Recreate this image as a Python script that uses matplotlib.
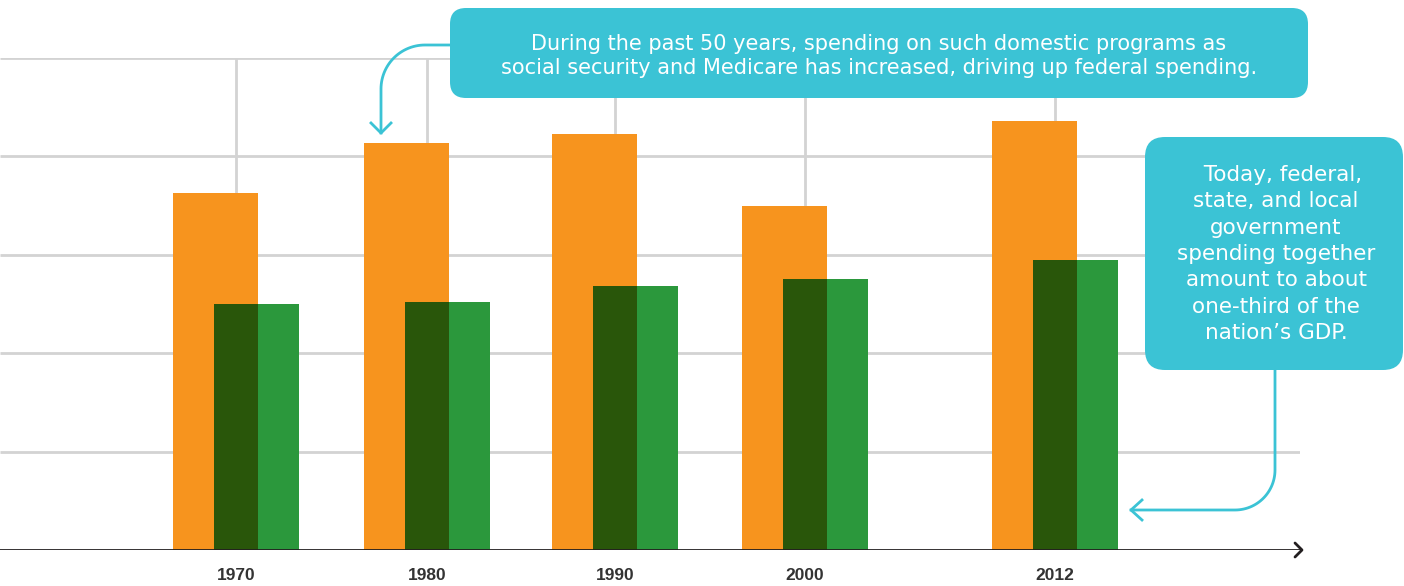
import numpy as np
import matplotlib
matplotlib.use("Agg")
import matplotlib.pyplot as plt
from matplotlib.patches import FancyBboxPatch

# data (share of GDP)
years = ["1970", "1980", "1990", "2000", "2012"]
xpos = [0, 1.005, 1.995, 2.995, 4.31]
total_spending = [29.0, 33.1, 33.8, 28.0, 34.9]     # federal + state + local
federal_spending = [20.0, 20.2, 21.5, 22.0, 23.6]

ORANGE = "#f7941e"
GREEN = "#2b983c"
DARK = "#29560a"
TEAL = "#3bc3d5"
GRID = "#d3d3d3"
INK = "#231f20"

W, H = 1404, 586
fig = plt.figure(figsize=(W / 100, H / 100), dpi=100)

ax = fig.add_axes([0, 36 / H, 1300 / W, 492 / H])
ax.set_xlim(-236 / 190, (1300 - 236) / 190)
ax.set_ylim(0, 40)

# grid
ax.hlines([8, 16, 24, 32, 40], -236 / 190, (1300 - 236) / 190, color=GRID, lw=2, zorder=0)
ax.vlines(xpos, 0, 40, color=GRID, lw=2, zorder=0)

bw = 85 / 190
off = 20.5 / 190
x = np.array(xpos)
ax.bar(x - off, total_spending, width=bw, color=ORANGE, zorder=2)
ax.bar(x + off, federal_spending, width=bw, color=GREEN, zorder=2)
overlap = np.minimum(total_spending, federal_spending)
ax.bar(x, overlap, width=bw - 2 * off, color=DARK, zorder=3)

ax.axhline(0, color=INK, lw=2, zorder=4)
ax.set_xticks(xpos)
ax.set_xticklabels(years, fontsize=12.5, fontweight="bold", color="#333333",
                   family=["Liberation Sans", "DejaVu Sans"])
ax.tick_params(axis="x", length=0, pad=13)
ax.set_yticks([])
for s in ax.spines.values():
    s.set_visible(False)

# overlay for callouts (figure pixels, y down)
ov = fig.add_axes([0, 0, 1, 1], zorder=5)
ov.set_xlim(0, W)
ov.set_ylim(H, 0)
ov.axis("off")
ov.patch.set_alpha(0)

# baseline arrow head
ov.plot([1295, 1302, 1295], [543, 550, 557], color=INK, lw=2, solid_capstyle="round")


def arc(cx, cy, r, a0, a1):
    t = np.radians(np.linspace(a0, a1, 30))
    return cx + r * np.cos(t), cy + r * np.sin(t)


# callout 1
ov.add_patch(FancyBboxPatch((450, 8), 858, 90, boxstyle="round,pad=0,rounding_size=16",
                            fc=TEAL, ec="none"))
ov.text(879, 56, "During the past 50 years, spending on such domestic programs as\n"
        "social security and Medicare has increased, driving up federal spending.",
        ha="center", va="center", color="white", fontsize=15, linespacing=1.26,
        family="DejaVu Sans")
ax_x, ax_y = arc(425, 89, 44, 270, 180)
ov.plot(np.r_[452, ax_x, 381], np.r_[45, ax_y, 133], color=TEAL, lw=2)
ov.plot([371, 381, 391], [123, 133, 123], color=TEAL, lw=2)

# callout 2
ov.add_patch(FancyBboxPatch((1145, 137), 258, 233, boxstyle="round,pad=0,rounding_size=20",
                            fc=TEAL, ec="none"))
ov.text(1276, 254, "  Today, federal,\nstate, and local\ngovernment\nspending together\n"
        "amount to about\none-third of the\nnation\u2019s GDP.",
        ha="center", va="center", color="white", fontsize=15.5, linespacing=1.4,
        family="DejaVu Sans")
bx, by = arc(1235, 470, 40, 0, 90)
ov.plot(np.r_[1275, bx, 1131], np.r_[370, by, 510], color=TEAL, lw=2)
ov.plot([1142, 1131, 1142], [500, 510, 520], color=TEAL, lw=2)

fig.savefig("out.png", dpi=100)
